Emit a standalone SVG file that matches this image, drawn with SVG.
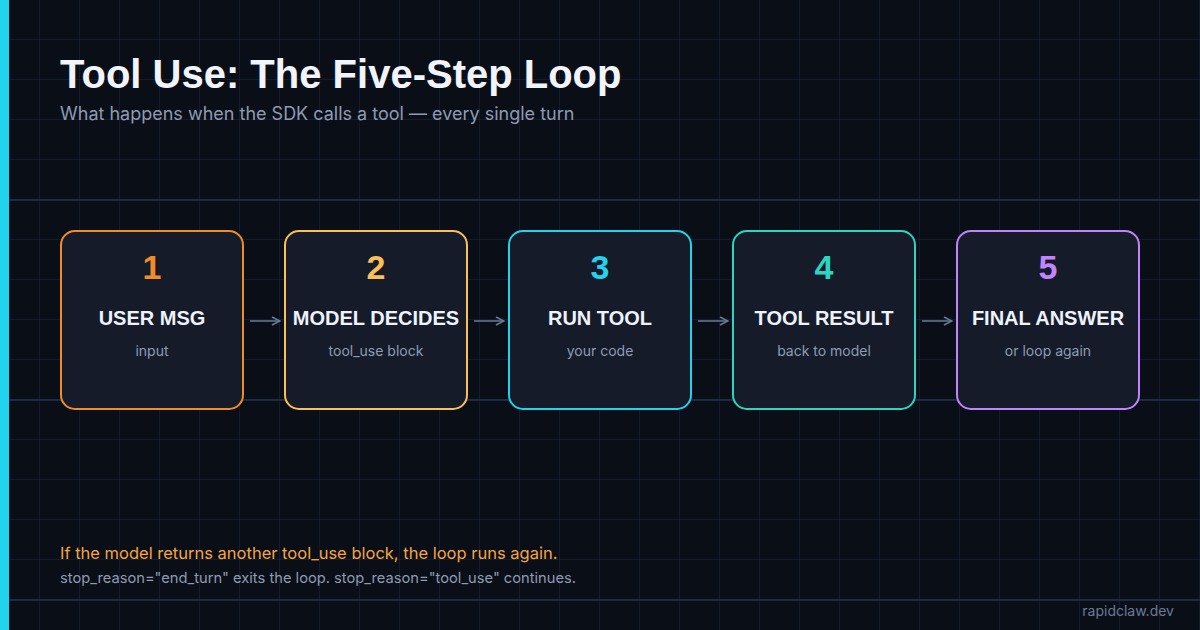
<svg xmlns="http://www.w3.org/2000/svg" width="1200" height="630" viewBox="0 0 1200 630">
<defs>
<pattern id="g" width="40" height="40" patternUnits="userSpaceOnUse"><path d="M40 0V40M0 40H40" fill="none" stroke="#1e2840" stroke-width="1"/></pattern>
<marker id="a" viewBox="0 0 10 10" refX="9" refY="5" markerWidth="10" markerHeight="10" markerUnits="userSpaceOnUse" orient="auto"><path d="M1 1L9 5L1 9" fill="none" stroke="#6b7a99" stroke-width="1.5"/></marker>
<style>
.box{fill:#151b29;stroke-width:2}
.num{font:700 34px "Liberation Sans",sans-serif;text-anchor:middle}
.t{font:700 20px "Liberation Sans",sans-serif;fill:#eef2fb;text-anchor:middle}
.s{font:14px "Inter","Liberation Sans",sans-serif;fill:#8f9bb3;text-anchor:middle}
.c{stroke:#6b7a99;stroke-width:1.5;fill:none;marker-end:url(#a)}
</style>
</defs>
<rect width="1200" height="630" fill="#0a0e17"/>
<rect width="1200" height="630" fill="url(#g)"/>
<path d="M0 200H1200M0 400H1200M0 600H1200" stroke="#26324c" stroke-width="1.5"/>
<rect width="9" height="630" fill="#22d3ee"/>
<text x="60" y="88" font-family="'Liberation Sans',sans-serif" font-weight="700" font-size="40" fill="#f1f4fa">Tool Use: The Five-Step Loop</text>
<text x="60" y="120" font-family="Inter,'Liberation Sans',sans-serif" font-size="18" fill="#8f9bb3">What happens when the SDK calls a tool — every single turn</text>
<g id="n1"><rect class="box" x="61" y="231" width="182" height="178" rx="14" stroke="#f28c28"/><text class="num" x="152" y="279" fill="#f28c28">1</text><text class="t" x="152" y="325">USER MSG</text><text class="s" x="152" y="356">input</text></g>
<g id="n2"><rect class="box" x="285" y="231" width="182" height="178" rx="14" stroke="#fbbf5a"/><text class="num" x="376" y="279" fill="#fbbf5a">2</text><text class="t" x="376" y="325">MODEL DECIDES</text><text class="s" x="376" y="356">tool_use block</text></g>
<g id="n3"><rect class="box" x="509" y="231" width="182" height="178" rx="14" stroke="#22d3ee"/><text class="num" x="600" y="279" fill="#22d3ee">3</text><text class="t" x="600" y="325">RUN TOOL</text><text class="s" x="600" y="356">your code</text></g>
<g id="n4"><rect class="box" x="733" y="231" width="182" height="178" rx="14" stroke="#2dd4bf"/><text class="num" x="824" y="279" fill="#2dd4bf">4</text><text class="t" x="824" y="325">TOOL RESULT</text><text class="s" x="824" y="356">back to model</text></g>
<g id="n5"><rect class="box" x="957" y="231" width="182" height="178" rx="14" stroke="#c084fc"/><text class="num" x="1048" y="279" fill="#c084fc">5</text><text class="t" x="1048" y="325">FINAL ANSWER</text><text class="s" x="1048" y="356">or loop again</text></g>
<g id="connectors">
<path class="c" d="M250 321H280"/><path class="c" d="M474 321H504"/><path class="c" d="M698 321H728"/><path class="c" d="M922 321H952"/>
</g>
<text x="60" y="559" font-family="Inter,'Liberation Sans',sans-serif" font-size="16.5" fill="#f5a545">If the model returns another tool_use block, the loop runs again.</text>
<text x="60" y="583" font-family="Inter,'Liberation Sans',sans-serif" font-size="14.7" fill="#8f9bb3">stop_reason="end_turn" exits the loop. stop_reason="tool_use" continues.</text>
<text x="1174" y="616" text-anchor="end" font-family="Inter,'Liberation Sans',sans-serif" font-size="14" fill="#6b7a99">rapidclaw.dev</text>
</svg>
